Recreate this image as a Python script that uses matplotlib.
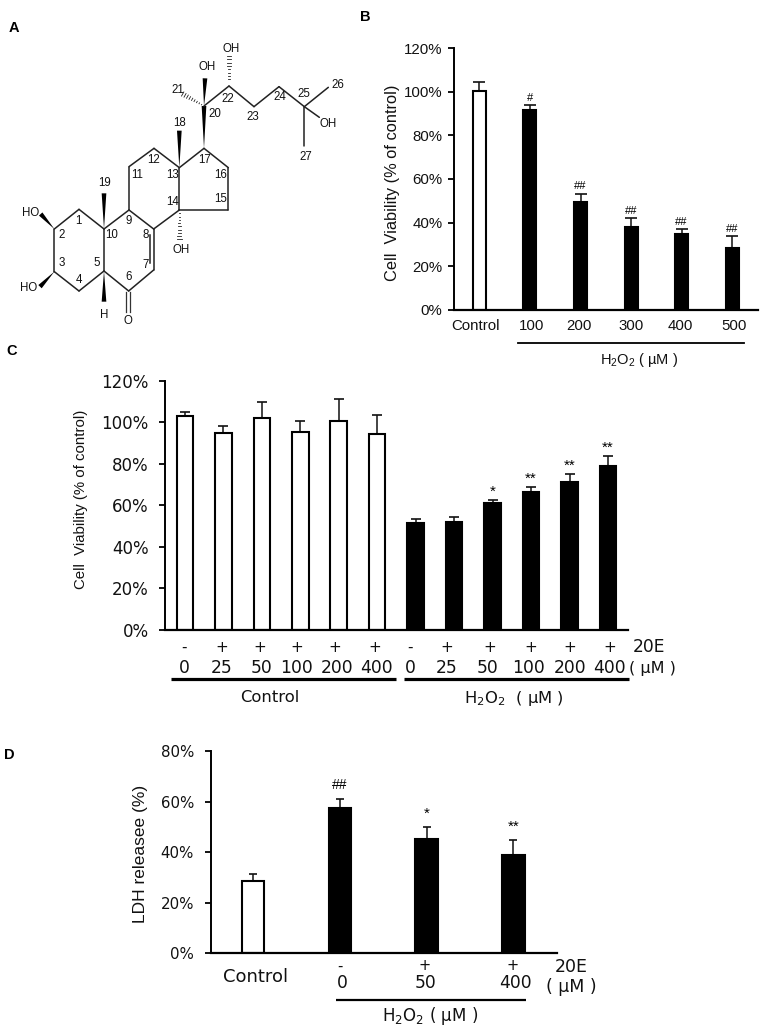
#!/bin/env python
""" 20E figure: structure plus three bar panels"""
import matplotlib
matplotlib.use("Agg")
import matplotlib.pyplot as plt
from matplotlib.patches import Polygon

W, H = 764, 1030
SANS = ["Liberation Sans", "DejaVu Sans"]
WIDE = ["DejaVu Sans"]
INK = "#111111"
plt.rcParams["font.family"] = SANS

# panel B
b_labels = ["Control", "100", "200", "300", "400", "500"]
b_values = [100.6, 91.5, 49.6, 38.0, 34.6, 28.2]
b_errors = [4.1, 2.3, 3.7, 3.9, 2.4, 5.5]
b_marks = ["", "#", "##", "##", "##", "##"]
b_yticks = [0, 20, 40, 60, 80, 100, 120]

# panel C
c_signs = ["-", "+", "+", "+", "+", "+", "-", "+", "+", "+", "+", "+"]
c_doses = ["0", "25", "50", "100", "200", "400", "0", "25", "50", "100", "200", "400"]
c_values = [103.0, 94.9, 101.8, 95.4, 100.7, 94.3, 51.4, 52.0, 61.2, 66.3, 71.0, 79.0]
c_errors = [1.7, 3.4, 7.9, 5.2, 10.3, 9.3, 2.1, 2.1, 1.4, 2.6, 3.9, 4.9]
c_marks = ["", "", "", "", "", "", "", "", "*", "**", "**", "**"]
c_yticks = [0, 20, 40, 60, 80, 100, 120]

# panel D
d_signs = ["", "-", "+", "+"]
d_doses = ["", "0", "50", "400"]
d_values = [28.7, 57.7, 45.2, 39.0]
d_errors = [2.6, 3.3, 4.7, 5.7]
d_marks = ["", "##", "*", "**"]
d_yticks = [0, 20, 40, 60, 80]

# panel A, atom positions in pixels of the zoomed drawing
atoms = {"1": (237, 628), "2": (163, 687), "3": (163, 815), "4": (237, 873), "5": (312, 813),
         "6": (386, 873), "7": (461, 810), "8": (461, 687), "9": (387, 630), "10": (312, 687),
         "11": (387, 500), "12": (462, 445), "13": (538, 503), "14": (538, 630), "15": (685, 630),
         "16": (685, 503), "17": (612, 445), "20": (612, 318), "22": (687, 258), "23": (762, 320),
         "24": (837, 260), "25": (913, 320), "26": (985, 262), "27": (913, 438), "OH25": (958, 352)}
bonds = [("1", "2"), ("2", "3"), ("3", "4"), ("4", "5"), ("5", "10"), ("10", "1"), ("5", "6"),
         ("6", "7"), ("7", "8"), ("8", "9"), ("9", "10"), ("9", "11"), ("11", "12"), ("12", "13"),
         ("13", "14"), ("14", "8"), ("14", "15"), ("15", "16"), ("16", "17"), ("17", "13"),
         ("20", "22"), ("22", "23"), ("23", "24"), ("24", "25"), ("25", "26"), ("25", "27"),
         ("25", "OH25")]
wedges = [((312, 687), (312, 580)), ((312, 813), (312, 905)), ((163, 687), (122, 642)),
          ((163, 815), (120, 860)), ((538, 503), (538, 392)), ((612, 445), (612, 318)),
          ((612, 318), (615, 235))]
hashes = [((538, 630), (538, 718)), ((687, 258), (687, 168)), ((612, 318), (548, 282))]
atom_text = [("HO", 92, 640), ("HO", 87, 863), ("H", 312, 945), ("O", 383, 964), ("OH", 544, 750),
             ("OH", 620, 201), ("OH", 692, 147), ("21", 533, 271), ("OH", 983, 372), ("1", 236, 662),
             ("2", 184, 706), ("3", 184, 789), ("4", 236, 840), ("5", 291, 789), ("6", 386, 832),
             ("7", 437, 795), ("8", 436, 706), ("9", 387, 662), ("10", 335, 706), ("11", 411, 525),
             ("12", 462, 481), ("13", 517, 525), ("14", 517, 606), ("15", 662, 598), ("16", 662, 525),
             ("17", 613, 481), ("18", 540, 368), ("19", 313, 550), ("20", 645, 342), ("22", 683, 296),
             ("23", 758, 351), ("24", 841, 292), ("25", 913, 281), ("26", 1013, 255), ("27", 916, 472)]


def make_axes(left, right, top, bottom):
    return fig.add_axes([left / W, 1 - bottom / H, (right - left) / W, (bottom - top) / H])


def bar_panel(box, values, errors, marks, yticks, ymax, n_open, width, xlim,
              tick_font, tick_size, tick_pad, gap, hash_size, star_size, ecap):
    ax = make_axes(*box)
    for i in range(len(values)):
        is_open = i < n_open
        ax.bar(i, values[i], width=width, facecolor="white" if is_open else "black",
               edgecolor="black", linewidth=1.5, zorder=2)
        ax.errorbar(i, values[i], yerr=[[0], [errors[i]]], color=INK, elinewidth=1.1,
                    capsize=ecap, capthick=1.2, zorder=1)
        if marks[i]:
            ax.text(i, values[i] + errors[i] + gap, marks[i], ha="center", va="center",
                    fontsize=hash_size if "#" in marks[i] else star_size)
    ax.set_xlim(*xlim)
    ax.set_ylim(0, ymax)
    ax.set_yticks(yticks)
    ax.set_yticklabels(["%d%%" % t for t in yticks], family=tick_font, fontsize=tick_size, color=INK)
    ax.spines["top"].set_visible(False)
    ax.spines["right"].set_visible(False)
    ax.spines["left"].set_linewidth(1.4)
    ax.spines["bottom"].set_linewidth(1.6)
    ax.tick_params(axis="y", length=4, width=1.3, pad=tick_pad)
    ax.set_xticks([])
    ax.patch.set_alpha(0)
    return ax


fig = plt.figure(figsize=(W / 100, H / 100), dpi=100)

ax_b = bar_panel((453.7, 758, 48.3, 309.7), b_values, b_errors, b_marks, b_yticks, 120, 1, 0.26,
                 (-0.506, 5.508), SANS, 10.8, 4, 3.4, 8, 8, 4)
ax_c = bar_panel((165.3, 628, 380.7, 629.7), c_values, c_errors, c_marks, c_yticks, 120, 6, 0.43,
                 (-0.51, 11.52), WIDE, 12, 8, 4.0, 9, 11, 3.5)
ax_d = bar_panel((210.7, 556.7, 751.3, 953), d_values, d_errors, d_marks, d_yticks, 80, 1, 0.26,
                 (-0.49, 3.5), WIDE, 10.8, 8, 5.5, 10, 11, 3)

# overlay in pixels for structure, labels and brackets
ov = fig.add_axes([0, 0, 1, 1])
ov.set_xlim(0, W)
ov.set_ylim(H, 0)
ov.axis("off")
ov.patch.set_alpha(0)


def label(x, y, s, size, family=WIDE, rotation=0):
    ov.text(x, y, s, fontsize=size, family=family, rotation=rotation, ha="center", va="center", color=INK)


for s, x, y in [("A", 14, 28), ("B", 365, 17), ("C", 12, 351), ("D", 9, 755)]:
    ov.text(x, y, s, fontsize=10.5, fontweight="bold", ha="center", va="center")

# structure
for a, b in bonds:
    ov.plot([atoms[a][0] / 3, atoms[b][0] / 3], [atoms[a][1] / 3, atoms[b][1] / 3],
            color="#222222", lw=1.1, solid_capstyle="round")
ov.plot([451 / 3, 451 / 3], [706 / 3, 790 / 3], color="#222222", lw=1.1)
ov.plot([379 / 3, 379 / 3], [875 / 3, 935 / 3], color="#333333", lw=0.9)
ov.plot([390 / 3, 390 / 3], [875 / 3, 935 / 3], color="#333333", lw=0.9)
for (x0, y0), (x1, y1) in wedges:
    dx, dy = x1 - x0, y1 - y0
    ln = (dx * dx + dy * dy) ** 0.5
    nx, ny = -dy / ln * 7, dx / ln * 7
    ov.add_patch(Polygon([(x0 / 3, y0 / 3), ((x1 + nx) / 3, (y1 + ny) / 3), ((x1 - nx) / 3, (y1 - ny) / 3)],
                         closed=True, facecolor="black", edgecolor="none"))
for (x0, y0), (x1, y1) in hashes:
    dx, dy = x1 - x0, y1 - y0
    ln = (dx * dx + dy * dy) ** 0.5
    for k in range(1, 10):
        f = k / 9
        nx, ny = -dy / ln * 7 * f, dx / ln * 7 * f
        cx, cy = x0 + dx * f, y0 + dy * f
        ov.plot([(cx + nx) / 3, (cx - nx) / 3], [(cy + ny) / 3, (cy - ny) / 3], color="#222222", lw=0.6)
for s, x, y in atom_text:
    label(x / 3, y / 3, s, 8.3, SANS)

# panel B labels
b_label_x = [476, 532, 579, 631, 680, 734]
for s, x in zip(b_labels, b_label_x):
    label(x, 326, s, 10.8, SANS)
ov.plot([518, 744], [343, 343], color="black", lw=1.3)
label(639, 360, r"H$\mathregular{_2}$O$\mathregular{_2}$ ( µM )", 10.5, SANS)
label(393, 183, "Cell  Viability (% of control)", 11.8, SANS, 90)

# panel C labels
c_sign_x = [184, 222, 260, 297, 335, 375, 410, 447, 490, 531, 570, 610]
c_dose_x = [184, 222, 261, 297, 337, 376, 410, 447, 488, 529, 570, 609]
for s, d, sx, dx in zip(c_signs, c_doses, c_sign_x, c_dose_x):
    label(sx, 647, s, 11)
    label(dx, 668, d, 12.3)
label(649, 647, "20E", 12.3)
label(652, 668, "( µM )", 11.5)
ov.plot([171, 396], [678.5, 678.5], color="black", lw=2.3, solid_capstyle="butt")
ov.plot([404, 628.7], [678.5, 678.5], color="black", lw=2.3, solid_capstyle="butt")
label(270, 698, "Control", 11.8)
label(514, 699, r"H$\mathregular{_2}$O$\mathregular{_2}$  ( µM )", 11.8)
label(81, 499, "Cell  Viability (% of control)", 10.8, SANS, 90)

# panel D labels
d_sign_x = [340, 425, 513]
d_dose_x = [342, 426, 515]
for s, d, sx, dx in zip(d_signs[1:], d_doses[1:], d_sign_x, d_dose_x):
    label(sx, 966, s, 10.5)
    label(dx, 983, d, 12.3)
label(256, 977, "Control", 13)
label(571, 967, "20E", 12.5)
label(571, 987, "( µM )", 12.5)
ov.plot([336, 525.7], [999.7, 999.7], color="black", lw=1.6, solid_capstyle="butt")
label(430, 1016, r"H$\mathregular{_2}$O$\mathregular{_2}$ ( µM )", 12)
label(140, 854, "LDH releasee (%)", 12.5, SANS, 90)

fig.savefig("out.png", dpi=100)
